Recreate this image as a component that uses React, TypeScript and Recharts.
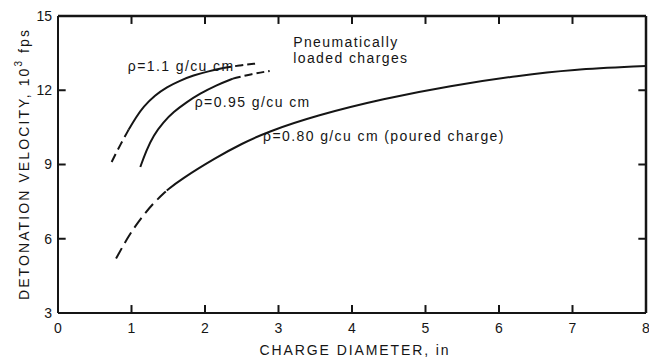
import { LineChart, Line, XAxis, YAxis, ReferenceDot, Label } from "recharts";

const INK = "#151515";
const FONT = "'Liberation Sans', Arial, sans-serif";

// ρ = 1.1 g/cu cm
const dense11Start = [
  { d: 0.73, v: 9.1 },
  { d: 0.8, v: 9.52 },
  { d: 0.88, v: 9.97 },
  { d: 0.96, v: 10.4 },
];
const dense11Solid = [
  { d: 0.96, v: 10.4 },
  { d: 1.06, v: 10.9 },
  { d: 1.16, v: 11.33 },
  { d: 1.32, v: 11.8 },
  { d: 1.48, v: 12.13 },
  { d: 1.66, v: 12.39 },
  { d: 1.84, v: 12.6 },
  { d: 2.05, v: 12.77 },
  { d: 2.25, v: 12.9 },
];
const dense11End = [
  { d: 2.25, v: 12.9 },
  { d: 2.48, v: 13.01 },
  { d: 2.7, v: 13.08 },
];

// ρ = 0.95 g/cu cm
const dense95Solid = [
  { d: 1.12, v: 8.9 },
  { d: 1.2, v: 9.56 },
  { d: 1.3, v: 10.18 },
  { d: 1.43, v: 10.7 },
  { d: 1.57, v: 11.12 },
  { d: 1.75, v: 11.52 },
  { d: 1.93, v: 11.86 },
  { d: 2.15, v: 12.2 },
  { d: 2.38, v: 12.47 },
];
const dense95End = [
  { d: 2.38, v: 12.47 },
  { d: 2.64, v: 12.66 },
  { d: 2.88, v: 12.78 },
];

// ρ = 0.80 g/cu cm (poured)
const pouredStart = [
  { d: 0.79, v: 5.2 },
  { d: 0.96, v: 6.12 },
  { d: 1.12, v: 6.8 },
  { d: 1.3, v: 7.45 },
  { d: 1.48, v: 7.95 },
];
const pouredSolid = [
  { d: 1.48, v: 7.95 },
  { d: 1.66, v: 8.38 },
  { d: 2.16, v: 9.3 },
  { d: 2.5, v: 9.84 },
  { d: 2.84, v: 10.31 },
  { d: 3.52, v: 10.99 },
  { d: 4.43, v: 11.66 },
  { d: 5.33, v: 12.18 },
  { d: 6.29, v: 12.6 },
  { d: 6.97, v: 12.83 },
  { d: 8.0, v: 12.98 },
];

const xTicks = [0, 1, 2, 3, 4, 5, 6, 7, 8];
const yTicks = [3, 6, 9, 12, 15];
const innerXTicks = [1, 2, 3, 4, 5, 6, 7];
const innerYTicks = [6, 9, 12];

const notes = [
  { d: 0.95, v: 13.0, text: "ρ=1.1 g/cu cm" },
  { d: 1.86, v: 11.53, text: "ρ=0.95 g/cu cm" },
  { d: 2.79, v: 10.14, text: "ρ=0.80 g/cu cm (poured charge)" },
  { d: 3.2, v: 13.95, text: "Pneumatically" },
  { d: 3.2, v: 13.29, text: "loaded charges" },
];

// centre of each inward tick sits half a tick inside the frame
const HALF_V = 0.16;
const HALF_D = 0.05;
const TICK = 8;

const tickMarks = [
  ...innerXTicks.map((t) => ({ d: t, v: 3 + HALF_V, dir: "v" })),
  ...innerXTicks.map((t) => ({ d: t, v: 15 - HALF_V, dir: "v" })),
  ...innerYTicks.map((t) => ({ d: HALF_D, v: t, dir: "h" })),
  ...innerYTicks.map((t) => ({ d: 8 - HALF_D, v: t, dir: "h" })),
];

const lineStyle = { stroke: INK, strokeWidth: 2 };
const textProps = { fill: INK, fontSize: 14, fontFamily: FONT };

export default function App() {
  const lineProps = {
    type: "basis" as const,
    dataKey: "v",
    stroke: INK,
    strokeWidth: 2,
    dot: false,
    isAnimationActive: false,
  };

  return (
    <div style={{ position: "absolute", left: 0, top: 0, background: "#fff" }}>
      <LineChart width={649} height={358} margin={{ top: 16, right: 3, bottom: 0, left: 0 }}>
        <XAxis
          dataKey="d"
          type="number"
          domain={[0, 8]}
          ticks={xTicks}
          interval={0}
          height={45}
          axisLine={lineStyle}
          tickLine={false}
          tickSize={0}
          tickMargin={10}
          tick={textProps}
          allowDataOverflow
        >
          <Label
            content={() => (
              <text
                x={355}
                y={350}
                textAnchor="middle"
                dominantBaseline="central"
                {...textProps}
                letterSpacing={1.9}
              >
                CHARGE  DIAMETER, in
              </text>
            )}
          />
        </XAxis>
        <XAxis
          xAxisId="top"
          orientation="top"
          mirror
          type="number"
          domain={[0, 8]}
          ticks={[]}
          axisLine={{ stroke: INK, strokeWidth: 2.5 }}
          tickLine={false}
          tick={false}
        />
        <YAxis
          type="number"
          domain={[3, 15]}
          ticks={yTicks}
          interval={0}
          width={58}
          axisLine={lineStyle}
          tickLine={false}
          tickSize={0}
          tickMargin={6}
          tick={textProps}
          allowDataOverflow
        >
          <Label
            content={() => (
              <text
                x={24}
                y={164}
                transform="rotate(-90 24 164)"
                textAnchor="middle"
                dominantBaseline="central"
                {...textProps}
                letterSpacing={2.1}
              >
                DETONATION  VELOCITY,  10
                <tspan dy={-6} fontSize={10}>3</tspan>
                <tspan dy={6}> fps</tspan>
              </text>
            )}
          />
        </YAxis>
        <YAxis
          yAxisId="right"
          orientation="right"
          mirror
          type="number"
          domain={[3, 15]}
          ticks={[]}
          axisLine={{ stroke: INK, strokeWidth: 2.5 }}
          tickLine={false}
          tick={false}
        />

        <Line {...lineProps} data={dense11Start} strokeDasharray="9 5" />
        <Line {...lineProps} data={dense11Solid} />
        <Line {...lineProps} data={dense11End} strokeDasharray="8 4" />
        <Line {...lineProps} data={dense95Solid} />
        <Line {...lineProps} data={dense95End} strokeDasharray="8 4" />
        <Line {...lineProps} data={pouredStart} strokeDasharray="12 6" />
        <Line {...lineProps} data={pouredSolid} />

        {tickMarks.map((m, i) => (
          <ReferenceDot
            key={`tick${i}`}
            x={m.d}
            y={m.v}
            r={0}
            shape={(p: any) =>
              m.dir === "v" ? (
                <path d={`M${p.cx},${p.cy - TICK / 2}V${p.cy + TICK / 2}`} stroke={INK} strokeWidth={2} fill="none" />
              ) : (
                <path d={`M${p.cx - TICK / 2},${p.cy}H${p.cx + TICK / 2}`} stroke={INK} strokeWidth={2} fill="none" />
              )
            }
          />
        ))}

        {notes.map((n) => (
          <ReferenceDot
            key={n.text}
            x={n.d}
            y={n.v}
            r={0}
            shape={(p: any) => (
              <text x={p.cx} y={p.cy} dominantBaseline="central" {...textProps} letterSpacing={1.4}>
                {n.text}
              </text>
            )}
          />
        ))}
      </LineChart>
    </div>
  );
}
